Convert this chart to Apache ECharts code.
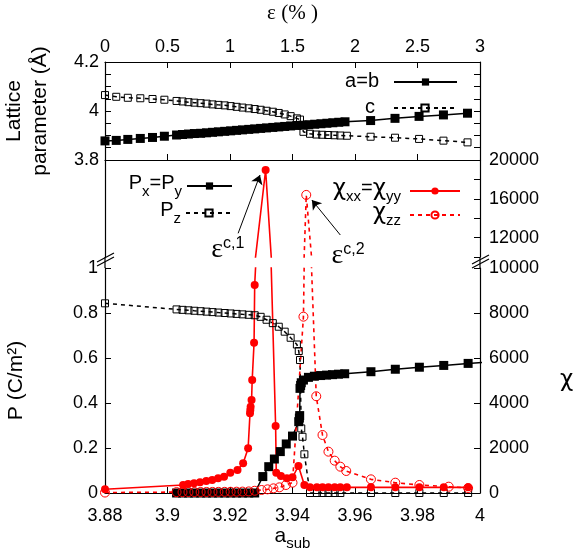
<!DOCTYPE html>
<html>
<head>
<meta charset="utf-8">
<script src="https://cdn.jsdelivr.net/npm/echarts@6/dist/echarts.min.js"></script>
<style>html,body{margin:0;background:#fff}#chart{width:581px;height:550px}</style>
</head>
<body>
<div id="chart"></div>
<script>
// lattice parameters (top panel)
const abX = [3.8800, 3.8836, 3.8873, 3.8913, 3.8952, 3.8990,
  3.9029, 3.9048, 3.9067, 3.9086, 3.9106, 3.9125, 3.9144, 3.9163, 3.9183, 3.9202,
  3.9221, 3.9240, 3.9260, 3.9279, 3.9298, 3.9317, 3.9337, 3.9356, 3.9375, 3.9394,
  3.9414, 3.9433, 3.9452, 3.9471, 3.9491, 3.9510, 3.9529, 3.9548, 3.9568,
  3.9650, 3.9728, 3.9805, 3.9883, 3.9960]
const abY = [3.878, 3.880, 3.884, 3.888, 3.892, 3.897,
  3.902, 3.904, 3.906, 3.908, 3.909, 3.911, 3.913, 3.915, 3.917, 3.919,
  3.921, 3.923, 3.925, 3.927, 3.929, 3.931, 3.933, 3.935, 3.937, 3.939,
  3.941, 3.942, 3.944, 3.946, 3.948, 3.950, 3.952, 3.954, 3.956,
  3.961, 3.970, 3.978, 3.984, 3.991]
const cX = [3.8800, 3.8836, 3.8873, 3.8913, 3.8952, 3.8990,
  3.9029, 3.9048, 3.9067, 3.9086, 3.9106, 3.9125, 3.9144, 3.9163, 3.9183, 3.9202,
  3.9221, 3.9240, 3.9260, 3.9279, 3.9298, 3.9317, 3.9337, 3.9356, 3.9375, 3.9394, 3.9414,
  3.9424,
  3.9435, 3.9456, 3.9476, 3.9495, 3.9514, 3.9534, 3.9553, 3.9574,
  3.9650, 3.9728, 3.9805, 3.9883, 3.9960]
const cY = [4.065, 4.058, 4.054, 4.052, 4.049, 4.046,
  4.041, 4.039, 4.036, 4.034, 4.032, 4.030, 4.027, 4.025, 4.023, 4.020,
  4.017, 4.014, 4.011, 4.008, 4.005, 4.001, 3.997, 3.992, 3.986, 3.979, 3.970,
  3.965,
  3.915, 3.907, 3.904, 3.903, 3.902, 3.901, 3.900, 3.899,
  3.895, 3.891, 3.886, 3.879, 3.872]

// polarization (bottom panel, left axis)
const pxX = [3.9029, 3.9048, 3.9067, 3.9086, 3.9106, 3.9125, 3.9144, 3.9163, 3.9183, 3.9202,
  3.9221, 3.9240, 3.9260, 3.9279,
  3.9305, 3.9324, 3.9342, 3.9361, 3.9380, 3.9400,
  3.9420, 3.9422, 3.9423, 3.9424, 3.9426, 3.9428, 3.9435,
  3.9451, 3.9470, 3.9490, 3.9509, 3.9528, 3.9547, 3.9567,
  3.9651, 3.9729, 3.9806, 3.9884, 3.9962, 4.0040]
const pxY = [0, 0, 0, 0, 0, 0, 0, 0, 0, 0, 0, 0, 0, 0,
  0.073, 0.117, 0.151, 0.184, 0.218, 0.253,
  0.317, 0.333, 0.344, 0.465, 0.478, 0.490, 0.502,
  0.514, 0.519, 0.522, 0.524, 0.526, 0.528, 0.530,
  0.539, 0.550, 0.559, 0.567, 0.576, 0.583]
const pzX = [3.8800,
  3.9029, 3.9048, 3.9067, 3.9086, 3.9106, 3.9125, 3.9144, 3.9163, 3.9183, 3.9202,
  3.9221, 3.9240, 3.9260, 3.9279, 3.9298, 3.9317, 3.9337, 3.9356, 3.9375, 3.9394, 3.9414,
  3.9420, 3.9424, 3.9428, 3.9432, 3.9438,
  3.9456, 3.9478, 3.9496, 3.9515, 3.9535, 3.9553,
  3.9651, 3.9729, 3.9806, 3.9884, 3.9962]
const pzY = [0.843,
  0.816, 0.814, 0.812, 0.810, 0.808, 0.806, 0.804, 0.802, 0.800, 0.798,
  0.796, 0.794, 0.792, 0.790, 0.783, 0.770, 0.755, 0.739, 0.717, 0.690, 0.660,
  0.631, 0.591, 0.287, 0.250, 0.172,
  0, 0, 0, 0, 0, 0,
  0, 0, 0, 0, 0]

// susceptibility (bottom panel, right axis, broken at 10000)
const chiXyX = [3.8800, 3.9050, 3.9066, 3.9085, 3.9104, 3.9124, 3.9143, 3.9162, 3.9181, 3.9201,
  3.9224, 3.9242, 3.9258, 3.9264, 3.9265, 3.9266, 3.9269, 3.9271, 3.9277, 3.9279,
  3.9314, 3.9346, 3.9348, 3.9363, 3.9382, 3.9400, 3.9419, 3.9438,
  3.9456, 3.9478, 3.9496, 3.9515, 3.9535, 3.9553, 3.9574,
  3.9651, 3.9729, 3.9806, 3.9884, 3.9962]
const chiXyY = [164, 356, 400, 430, 474, 533, 578, 652, 726, 904,
  1022, 1318, 1985, 3541, 3689, 3837, 4133, 5022, 6681, 9244,
  18969, 2978, 904, 756, 652, 696, 1200, 356,
  252, 252, 252, 252, 252, 252, 252,
  252, 252, 252, 252, 252]
const chiZzX = [3.8800,
  3.9029, 3.9048, 3.9067, 3.9086, 3.9106, 3.9125, 3.9144, 3.9163, 3.9183, 3.9202,
  3.9221, 3.9240, 3.9260, 3.9279,
  3.9301, 3.9320, 3.9339, 3.9358, 3.9379, 3.9400,
  3.9435, 3.9444,
  3.9476, 3.9496, 3.9515, 3.9535, 3.9553, 3.9572,
  3.9651, 3.9729, 3.9806, 3.9900, 3.9962]
const chiZzY = [20,
  40, 40, 42, 44, 45, 47, 48, 50, 52, 55,
  58, 62, 70, 100,
  133, 163, 207, 252, 356, 459,
  7837, 16400,
  4300, 2578, 1837, 1437, 1170, 978,
  607, 459, 356, 281, 220]

// tick labels that carry text
const latLabels = ['3.8', '4', '4.2']
const chiTopLabels = ['12000', '16000', '20000']

// annotation arrows: [from, to] in (a_sub, chi)
const arrowC1 = [[3.9226, 12443], [3.9296, 18454]]
const arrowC2 = [[3.9553, 12268], [3.9462, 15876]]
const labelC1 = [3.9193, 10800]
const labelC2 = [3.9578, 10150]

const FONT = 'Liberation Sans, Arial, sans-serif'
const GREEK = 'DejaVu Sans, sans-serif'
const SERIF = 'Liberation Serif, Times New Roman, serif'
const RED = '#ff0000'
const NONE = 'rgba(0,0,0,0)'
const pair = (xs, ys) => xs.map((x, i) => [x, ys[i]])

const chart = echarts.init(document.getElementById('chart'))

const tickStyle = { show: true, inside: true, length: 6, lineStyle: { color: '#000', width: 1 } }
const lineStyleAxis = { show: true, lineStyle: { color: '#000', width: 1.2 } }
const lbl = { color: '#000', fontSize: 18, fontFamily: FONT }

const subRich = {
  n: { fontSize: 20, fontFamily: FONT, color: '#000', lineHeight: 22, verticalAlign: 'top' },
  s: { fontSize: 15, fontFamily: FONT, color: '#000', verticalAlign: 'bottom', padding: [11, 0, 0, 0] },
  g: { fontSize: 23, fontFamily: GREEK, color: '#000', lineHeight: 22, verticalAlign: 'top' }
}
const legendText = {
  ab: '{n|a=b}',
  c: '{n|c}',
  pxy: '{n|P}{s|x}{n|=P}{s|y}',
  pz: '{n|P}{s|z}',
  chixy: '{g|χ}{s|xx}{n|=}{g|χ}{s|yy}',
  chizz: '{g|χ}{s|zz}'
}
const mkLegend = (name, right, top, width, gap) => ({
  data: [name], right, top, orient: 'horizontal', align: 'right',
  itemWidth: width, itemHeight: 9, padding: 0, selectedMode: false,
  formatter: n => legendText[n],
  textStyle: { rich: subRich, padding: [0, gap, 0, 0] }
})

const epsRich = {
  e: { fontSize: 28, fontFamily: SERIF, color: '#000', verticalAlign: 'bottom' },
  s: { fontSize: 16, fontFamily: FONT, color: '#000', verticalAlign: 'top', padding: [0, 0, 12, 0] }
}

const arrowMark = (arr) => ({
  silent: true, symbol: ['none', 'arrow'], symbolSize: 9,
  lineStyle: { color: '#000', width: 1, type: 'solid' },
  label: { show: false },
  data: [[{ coord: arr[0] }, { coord: arr[1] }]]
})
const textMark = (coord, txt) => ({
  silent: true, symbol: 'circle', symbolSize: 1,
  itemStyle: { color: NONE },
  label: { show: true, position: 'inside', formatter: txt, rich: epsRich },
  data: [{ coord }]
})

const openSquare = { color: NONE, borderColor: '#000', borderWidth: 1 }
const openCircle = { color: NONE, borderColor: RED, borderWidth: 1 }

chart.setOption({
  animation: false,
  backgroundColor: '#fff',
  grid: [
    { left: 105, right: 101, top: 62, height: 98, outerBoundsMode: 'none' },
    { left: 105, right: 101, top: 160, height: 97, outerBoundsMode: 'none' },
    { left: 105, right: 101, top: 268, height: 225, outerBoundsMode: 'none' }
  ],
  legend: [
    mkLegend('ab', 123, 71, 63, 10),
    mkLegend('c', 124, 97, 62, 14),
    mkLegend('pxy', 348, 173, 45, 0),
    mkLegend('pz', 348, 200, 46, 0),
    mkLegend('chixy', 120, 178, 50, 4),
    mkLegend('chizz', 120, 202, 50, 4)
  ],
  xAxis: [
    { gridIndex: 0, type: 'value', min: 3.88, max: 4.0, interval: 0.02, position: 'bottom',
      axisLine: lineStyleAxis, axisTick: tickStyle, axisLabel: { show: false }, splitLine: { show: false } },
    { gridIndex: 0, type: 'value', min: 0, max: 3, interval: 0.5, position: 'top',
      axisLine: lineStyleAxis, axisTick: tickStyle, axisLabel: { ...lbl, margin: 6 }, splitLine: { show: false },
      name: 'ε (% )', nameLocation: 'middle', nameGap: 38,
      nameTextStyle: { fontSize: 21, fontFamily: SERIF, color: '#000' } },
    { gridIndex: 1, type: 'value', min: 3.88, max: 4.0, show: false },
    { gridIndex: 2, type: 'value', min: 3.88, max: 4.0, interval: 0.02, position: 'bottom',
      axisLine: lineStyleAxis, axisTick: tickStyle, axisLabel: { ...lbl, margin: 14 }, splitLine: { show: false },
      name: '{a|a}{s|sub}', nameLocation: 'middle', nameGap: 31,
      nameTextStyle: { rich: {
        a: { fontSize: 21, fontFamily: FONT, color: '#000', lineHeight: 22, verticalAlign: 'top' },
        s: { fontSize: 15, fontFamily: FONT, color: '#000', verticalAlign: 'bottom', padding: [10, 0, 0, 0] }
      } } }
  ],
  yAxis: [
    { gridIndex: 0, type: 'value', min: 3.8, max: 4.2, interval: 0.05, position: 'left',
      axisLine: lineStyleAxis, axisTick: tickStyle, splitLine: { show: false },
      axisLabel: { ...lbl, margin: 6, formatter: v => { const s = String(+v.toFixed(2)); return latLabels.includes(s) ? s : '' } },
      name: 'Lattice\nparameter (Å)', nameLocation: 'middle', nameRotate: 90, nameGap: 52,
      nameTextStyle: { fontSize: 21, fontFamily: FONT, color: '#000', lineHeight: 26 } },
    { gridIndex: 0, type: 'value', min: 3.8, max: 4.2, interval: 0.05, position: 'right',
      axisLine: lineStyleAxis, axisTick: tickStyle, axisLabel: { show: false }, splitLine: { show: false } },
    { gridIndex: 1, type: 'value', min: 0, max: 1, position: 'left',
      axisLine: lineStyleAxis, axisTick: { show: false }, axisLabel: { show: false }, splitLine: { show: false } },
    { gridIndex: 1, type: 'value', min: 10000, max: 20000, interval: 2000, position: 'right',
      axisLine: lineStyleAxis, axisTick: tickStyle, splitLine: { show: false },
      axisLabel: { ...lbl, margin: 9, formatter: v => chiTopLabels.includes(String(v)) ? String(v) : '' } },
    { gridIndex: 2, type: 'value', min: 0, max: 1, interval: 0.2, position: 'left',
      axisLine: lineStyleAxis, axisTick: tickStyle, splitLine: { show: false },
      axisLabel: { ...lbl, margin: 7 },
      name: 'P (C/m²)', nameLocation: 'middle', nameRotate: 90, nameGap: 78,
      nameTextStyle: { fontSize: 21, fontFamily: FONT, color: '#000' } },
    { gridIndex: 2, type: 'value', min: 0, max: 10000, interval: 2000, position: 'right',
      axisLine: lineStyleAxis, axisTick: tickStyle, splitLine: { show: false },
      axisLabel: { ...lbl, margin: 9, formatter: v => String(v) },
      name: 'χ', nameLocation: 'middle', nameRotate: 0, nameGap: 80,
      nameTextStyle: { fontSize: 23, fontFamily: GREEK, color: '#000' } }
  ],
  series: [
    { name: 'ab', type: 'line', xAxisIndex: 0, yAxisIndex: 0, data: pair(abX, abY),
      symbol: 'rect', symbolSize: 9, itemStyle: { color: '#000' },
      lineStyle: { color: '#000', width: 1.5 } },
    { name: 'c', type: 'line', xAxisIndex: 0, yAxisIndex: 0, data: pair(cX, cY),
      symbol: 'rect', symbolSize: 7, itemStyle: openSquare,
      lineStyle: { color: '#000', width: 1.5, type: [4, 4] } },
    { name: 'pxy', type: 'line', xAxisIndex: 3, yAxisIndex: 4, data: pair(pxX, pxY),
      symbol: 'rect', symbolSize: 9, itemStyle: { color: '#000' },
      lineStyle: { color: '#000', width: 1.5 } },
    { name: 'pz', type: 'line', xAxisIndex: 3, yAxisIndex: 4, data: pair(pzX, pzY),
      symbol: 'rect', symbolSize: 7, itemStyle: openSquare,
      lineStyle: { color: '#000', width: 1.5, type: [4, 4] } },
    { name: 'chixy', type: 'line', xAxisIndex: 3, yAxisIndex: 5, data: pair(chiXyX, chiXyY),
      symbol: 'circle', symbolSize: 8, itemStyle: { color: RED },
      lineStyle: { color: RED, width: 1.6 } },
    { name: 'chixy', type: 'line', xAxisIndex: 2, yAxisIndex: 3, data: pair(chiXyX, chiXyY),
      symbol: 'circle', symbolSize: 8, itemStyle: { color: RED },
      lineStyle: { color: RED, width: 1.6 },
      markLine: arrowMark(arrowC1), markPoint: textMark(labelC1, '{e|ε}{s|c,1}') },
    { name: 'chizz', type: 'line', xAxisIndex: 3, yAxisIndex: 5, data: pair(chiZzX, chiZzY),
      symbol: 'circle', symbolSize: 9, itemStyle: openCircle,
      lineStyle: { color: RED, width: 1.6, type: [4, 4] } },
    { name: 'chizz', type: 'line', xAxisIndex: 2, yAxisIndex: 3, data: pair(chiZzX, chiZzY),
      symbol: 'circle', symbolSize: 9, itemStyle: openCircle,
      lineStyle: { color: RED, width: 1.6, type: [4, 4] },
      markLine: arrowMark(arrowC2), markPoint: textMark(labelC2, '{e|ε}{s|c,2}') }
  ],
  graphic: [
    // axis lines across the break and the break marks
    { type: 'line', shape: { x1: 105, y1: 257, x2: 105, y2: 268 }, style: { stroke: '#000', lineWidth: 1.2 } },
    { type: 'line', shape: { x1: 480, y1: 257, x2: 480, y2: 268 }, style: { stroke: '#000', lineWidth: 1.2 } },
    { type: 'line', shape: { x1: 97, y1: 262, x2: 114, y2: 253 }, style: { stroke: '#000', lineWidth: 1.2 } },
    { type: 'line', shape: { x1: 97, y1: 266, x2: 114, y2: 257 }, style: { stroke: '#000', lineWidth: 1.2 } },
    { type: 'line', shape: { x1: 472, y1: 264, x2: 489, y2: 255 }, style: { stroke: '#000', lineWidth: 1.2 } },
    { type: 'line', shape: { x1: 472, y1: 268, x2: 489, y2: 259 }, style: { stroke: '#000', lineWidth: 1.2 } }
  ]
})

window.addEventListener('resize', () => chart.resize())
</script>
</body>
</html>
